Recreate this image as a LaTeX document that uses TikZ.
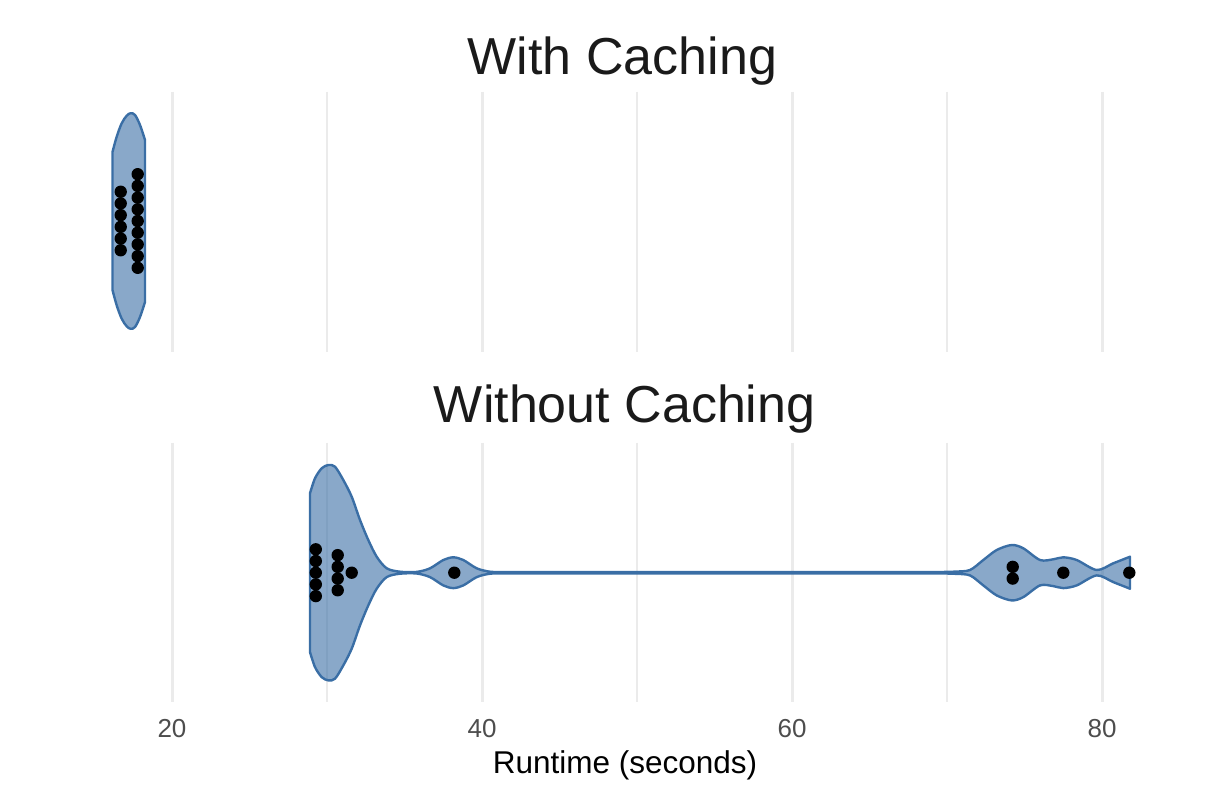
\documentclass[tikz,border=0pt]{standalone}
\usepackage{fontspec}
\setmainfont{Liberation Sans}
\definecolor{vblue}{HTML}{3A6EA5}
\definecolor{gridc}{HTML}{EBEBEB}
\definecolor{ticktxt}{HTML}{4D4D4D}
\definecolor{titletxt}{HTML}{1A1A1A}
\begin{document}
\begin{tikzpicture}[x=1pt,y=-1pt,
  majorgrid/.style={draw=gridc,line width=3pt},
  minorgrid/.style={draw=gridc,line width=1.5pt},
  violin/.style={draw=vblue,line width=2.4pt,fill=vblue,fill opacity=0.6,line join=round},
  dot/.style={circle,fill=black,inner sep=0pt,minimum size=12.4pt},
  paneltitle/.style={anchor=base,text=titletxt,font=\fontsize{52}{60}\selectfont,inner sep=0pt},
  ticklabel/.style={anchor=base,text=ticktxt,font=\fontsize{26}{30}\selectfont,inner sep=0pt},
  axistitle/.style={anchor=base,text=black,font=\fontsize{31.5}{36}\selectfont,inner sep=0pt}]
\useasboundingbox (0,0) rectangle (1205,796);
% grid
\foreach \x in {172,482,792,1102}{
  \draw[majorgrid] (\x,91.5) -- (\x,351.5);
  \draw[majorgrid] (\x,442.5) -- (\x,702);
}
\foreach \x in {327,637,947}{
  \draw[minorgrid] (\x,91.5) -- (\x,351.5);
  \draw[minorgrid] (\x,442.5) -- (\x,702);
}
% top violin
\draw[violin] plot[smooth,tension=0.55] coordinates {(112.5,152) (116.7,136.7) (121.7,123.3) (126.7,115.7) (130.7,113.2) (135,115) (140,125) (145,140)}
  -- plot[smooth,tension=0.55] coordinates {(145,302) (140,317) (135,327) (130.7,328.8) (126.7,326.3) (121.7,318.7) (116.7,305.3) (112.5,290)} -- cycle;
% bottom violin
\draw[violin] plot[smooth,tension=0.5] coordinates {(310,493.3) (315,478.3) (321.7,468.3) (328.3,465) (335,466.7) (343.3,480) (351.7,496.7) (360,520) (368.3,540) (376.7,556.7) (386.7,568.3) (400,571.7) (416.7,571.9) (430,568.3) (443.3,560) (453.3,557.3) (463.3,560) (476.7,568.3) (490,571.7) (505,572) (520,572)}
  -- plot[smooth,tension=0.5] coordinates {(940,572) (955,571.6) (970,570) (983.3,560) (996.7,550) (1011.7,545) (1023.3,548.3) (1040,560) (1053.3,559.3) (1063.3,557.3) (1076.7,560) (1096.7,570) (1113.3,563.3) (1130,556.7)}
  -- plot[smooth,tension=0.5] coordinates {(1130,588.7) (1113.3,582.1) (1096.7,575.4) (1076.7,585.4) (1063.3,588.1) (1053.3,586.1) (1040,585.4) (1023.3,597.1) (1011.7,600.4) (996.7,595.4) (983.3,585.4) (970,575.4) (955,573.8) (940,573.4)}
  -- plot[smooth,tension=0.5] coordinates {(520,573.4) (505,573.4) (490,573.7) (476.7,577.1) (463.3,585.4) (453.3,588.1) (443.3,585.4) (430,577.1) (416.7,573.5) (400,573.7) (386.7,577.1) (376.7,588.7) (368.3,605.4) (360,625.4) (351.7,648.7) (343.3,665.4) (335,678.7) (328.3,680.4) (321.7,677.1) (315,667.1) (310,652.1)} -- cycle;
% dots top
\foreach \y [count=\i] in {191.75,203.45,215.15,226.85,238.55,250.25}
  \node[dot] (ta\i) at (120.7,\y) {};
\foreach \y [count=\i] in {174.2,185.9,197.6,209.3,221,232.7,244.4,256.1,267.8}
  \node[dot] (tb\i) at (137.7,\y) {};
% dots bottom
\foreach \y [count=\i] in {549.3,561,572.7,584.4,596.1}
  \node[dot] (ba\i) at (315.8,\y) {};
\foreach \y [count=\i] in {555.15,566.85,578.55,590.25}
  \node[dot] (bb\i) at (337.7,\y) {};
\node[dot] (bc) at (351.7,572.7) {};
\node[dot] (bd) at (454.3,572.7) {};
\node[dot] (be1) at (1012.7,566.85) {};
\node[dot] (be2) at (1012.7,578.55) {};
\node[dot] (bf) at (1063.3,572.7) {};
\node[dot] (bg) at (1129.3,572.7) {};
% titles
\node[paneltitle] (t1) at (622.5,74.3) {With Caching};
\node[paneltitle] (t2) at (624.7,422.7) {Without Caching};
% ticks
\node[ticklabel] (x20) at (172,737.7) {20};
\node[ticklabel] (x40) at (482,737.7) {40};
\node[ticklabel] (x60) at (792,737.7) {60};
\node[ticklabel] (x80) at (1102,737.7) {80};
\node[axistitle] (xt) at (625,773) {Runtime (seconds)};
\end{tikzpicture}
\end{document}
